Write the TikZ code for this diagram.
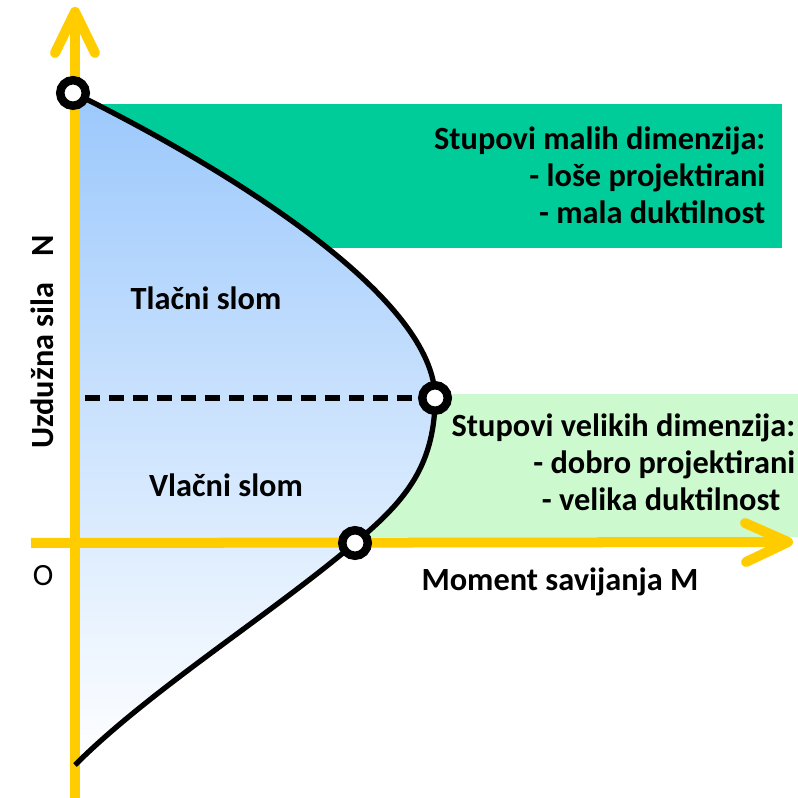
\documentclass[tikz,border=0pt]{standalone}
\usepackage{fontspec}
\setmainfont{Carlito}
\usetikzlibrary{positioning}
\definecolor{axisyellow}{RGB}{255,204,0}
\definecolor{boxgreen}{RGB}{0,204,153}
\definecolor{boxlight}{RGB}{204,250,206}
\definecolor{regionblue}{RGB}{155,200,252}

\begin{document}
\begin{tikzpicture}[x=0.01cm, y=-0.01cm,
    axis/.style={draw=axisyellow, line width=0.1cm, line cap=round, line join=round},
    knot/.style={circle, draw=black, fill=white, line width=2.4pt, minimum size=0.255cm, inner sep=0pt},
    curveline/.style={draw=black, line width=1.5pt},
    txt/.style={inner sep=0pt, font=\bfseries\fontsize{9.2}{10.5}\selectfont}]

        % Frame
        \useasboundingbox (0,0) rectangle (798,798);

        % Background boxes
        \fill[boxgreen] (90,104) rectangle (782,248);
        \fill[boxlight] (350,394) rectangle (798,537);

        % Interaction region
        \shade[top color=regionblue, bottom color=white]
            (74,93) .. controls (240,175) and (435,300) .. (435,398)
            .. controls (435,470) and (400,505) .. (355,543)
            .. controls (270,615) and (150,690) .. (75,765) -- cycle;

        % Axes
        \coordinate (yb) at (75,798);
        \coordinate (yt) at (75,12);
        \coordinate (yl) at (55,53);
        \coordinate (yr) at (95,53);
        \coordinate (xl) at (31,543);
        \coordinate (xr) at (788,542);
        \coordinate (xu) at (745,523);
        \coordinate (xd) at (746,562);
        \draw[axis] (yb) -- (yt);
        \draw[axis] (yl) -- (yt) -- (yr);
        \draw[axis, line cap=butt] (xl) -- (xr);
        \draw[axis] (xu) -- (xr) -- (xd);

        % Balance point level
        \coordinate (dl) at (85,398);
        \coordinate (dr) at (425,398);
        \draw[line width=1.5pt, dash pattern=on 0.15cm off 0.09cm] (dl) -- (dr);

        % Curve
        \coordinate (nbot) at (75,765);
        \draw[curveline] (74,93) .. controls (240,175) and (435,300) .. (435,398)
            .. controls (435,470) and (400,505) .. (355,543)
            .. controls (270,615) and (150,690) .. (nbot);

        % Points on the curve
        \node[knot] (ntop) at (73,93) {};
        \node[knot] (nbal) at (435,398) {};
        \node[knot] (nmom) at (355,543) {};

        % Texts
        \node[txt, anchor=east, align=right] (small) at (766,175)
            {Stupovi malih dimenzija:\\- loše projektirani\\- mala duktilnost};
        \node[txt, anchor=east, align=right] (large) at (796,462)
            {Stupovi velikih dimenzija:\\- dobro projektirani\hspace*{0.15cm}\\- velika duktilnost\hspace*{0.15cm}};
        \node[txt] (tlak) at (206,298) {Tlačni slom};
        \node[txt] (vlak) at (226,485) {Vlačni slom};
        \node[txt] (mom) at (560,582) {Moment savijanja M};
        \node[inner sep=0pt, font=\fontsize{8.8}{10}\selectfont] (orig) at (43,576) {O};
        \node[txt, rotate=90] (sila) at (42,342) {Uzdužna sila\hspace{0.26cm}N};
\end{tikzpicture}
\end{document}
